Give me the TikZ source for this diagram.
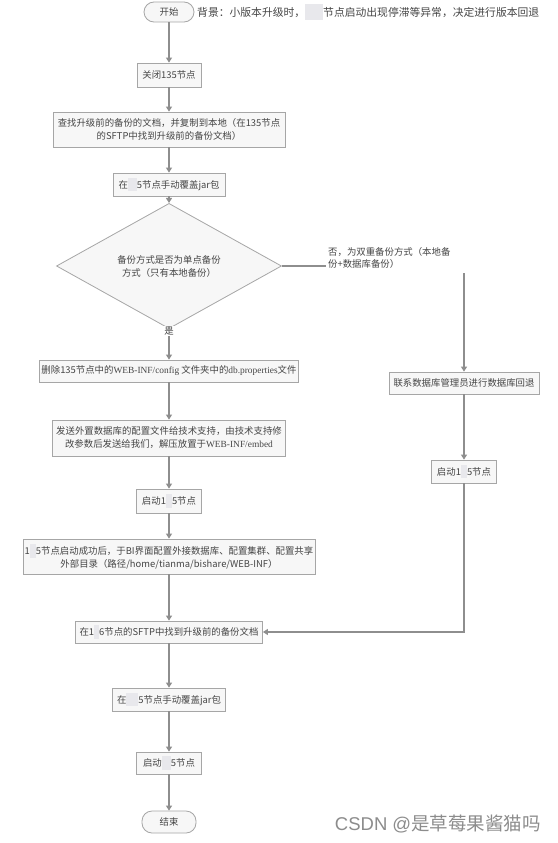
\documentclass[tikz,border=0pt]{standalone}
\usepackage{fontspec}
\setmainfont{Noto Sans CJK SC}
\newfontfamily\serifl{Liberation Serif}
\newfontfamily\wmlatin{Liberation Sans}
\usetikzlibrary{shapes.geometric,arrows.meta}
\definecolor{boxline}{HTML}{A6A6A6}
\definecolor{boxfill}{HTML}{F7F7F7}
\definecolor{arrcol}{HTML}{8E8E8E}
\definecolor{txtcol}{HTML}{454545}
\definecolor{rdcol}{HTML}{E8E8EC}
\newcommand\rdpatch[1]{{\color{rdcol}\rule[-0.35em]{#1}{1.45em}}}
\begin{document}
\begin{tikzpicture}[x=1pt,y=-1pt,
  box/.style={draw=boxline, fill=boxfill, line width=0.8pt, text=txtcol,
    font=\fontsize{9.4}{13}\selectfont, align=center, inner sep=1pt},
  term/.style={box, rounded corners=10pt},
  decision/.style={box, diamond, inner sep=0pt},
  lbl/.style={text=txtcol, font=\fontsize{9.4}{12}\selectfont, inner sep=1pt},
  arr/.style={draw=arrcol, line width=1.1pt, -{Triangle[length=5pt,width=6pt]}},
  ln/.style={draw=arrcol, line width=1.1pt}]
\useasboundingbox[fill=white] (0,0) rectangle (557,843);

\node[term, minimum width=50pt, minimum height=20pt] (start) at (169,12) {开始};
\node[lbl, anchor=west, font=\fontsize{10.8}{13}\selectfont] (bg) at (196,12)
  {背景：小版本升级时，\rdpatch{18pt}节点启动出现停滞等异常，决定进行版本回退};

\node[box, minimum width=64pt, minimum height=24pt] (close) at (169,75) {关闭135节点};
\node[box, minimum width=232pt, minimum height=35pt] (find) at (169,129.5)
  {查找升级前的备份的文档，并复制到本地（在135节点\\的SFTP中找到升级前的备份文档）};
\node[box, minimum width=112pt, minimum height=23pt] (jar1) at (169,184.5)
  {在\rdpatch{9pt}5节点手动覆盖jar包};
\node[decision, minimum width=225pt, minimum height=82pt] (dia) at (169,266)
  {备份方式是否为单点备份\\方式（只有本地备份）};
\node[lbl, fill=white] (yes) at (169,331) {是};
\node[box, minimum width=259pt, minimum height=22pt] (del) at (169,371)
  {删除135节点中的{\serifl WEB-INF/config} 文件夹中的{\serifl db.properties}文件};
\node[box, minimum width=233pt, minimum height=36pt] (send) at (169,438)
  {发送外置数据库的配置文件给技术支持，由技术支持修\\改参数后发送给我们，解压放置于{\serifl WEB-INF/embed}};
\node[box, minimum width=65pt, minimum height=24pt] (boot1) at (169,501)
  {启动1\rdpatch{6pt}5节点};
\node[box, minimum width=292pt, minimum height=35pt] (cfg) at (169,556.5)
  {1\rdpatch{6pt}5节点启动成功后，于BI界面配置外接数据库、配置集群、配置共享\\外部目录（路径/home/tianma/bishare/WEB-INF）};
\node[box, minimum width=187pt, minimum height=22pt] (sftp) at (169,632)
  {在1\rdpatch{5pt}6节点的SFTP中找到升级前的备份文档};
\node[box, minimum width=113pt, minimum height=23pt] (jar2) at (169,699.5)
  {在\rdpatch{12pt}5节点手动覆盖jar包};
\node[box, minimum width=65pt, minimum height=22pt] (boot2) at (169,763)
  {启动\rdpatch{9pt}5节点};
\node[term, minimum width=54pt, minimum height=22pt] (end) at (169,822) {结束};

\node[lbl, anchor=west, align=left] (no) at (327,258)
  {否，为双重备份方式（本地备\\份+数据库备份）};
\coordinate (c0) at (326,266);
\coordinate (c1) at (464,273);
\node[box, minimum width=150pt, minimum height=22pt] (db) at (464,383)
  {联系数据库管理员进行数据库回退};
\node[box, minimum width=65pt, minimum height=23pt] (boot3) at (464,471.5)
  {启动1\rdpatch{6pt}5节点};

\node[anchor=east, text=black!45, font=\fontsize{18.5}{22}\selectfont, inner sep=0pt] (wm) at (541,824)
  {{\wmlatin CSDN @}是草莓果酱猫吗};

\draw[arr] (start) -- (close);
\draw[arr] (close) -- (find);
\draw[arr] (find) -- (jar1);
\draw[arr] (jar1) -- (dia);
\draw[ln] (dia) -- (yes);
\draw[arr] (yes) -- (del);
\draw[arr] (del) -- (send);
\draw[arr] (send) -- (boot1);
\draw[arr] (boot1) -- (cfg);
\draw[arr] (cfg) -- (sftp);
\draw[arr] (sftp) -- (jar2);
\draw[arr] (jar2) -- (boot2);
\draw[arr] (boot2) -- (end);
\draw[ln] (dia.east) -- (c0);
\draw[arr] (c1) -- (db);
\draw[arr] (db) -- (boot3);
\draw[arr] (boot3) |- (sftp);
\end{tikzpicture}
\end{document}
